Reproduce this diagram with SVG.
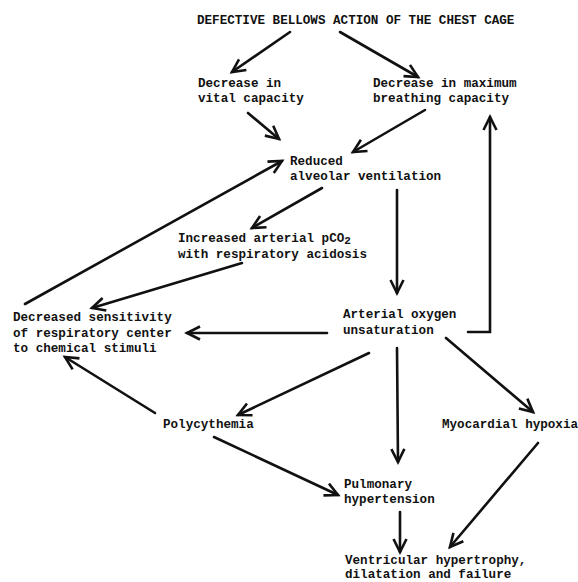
<svg xmlns="http://www.w3.org/2000/svg" width="578" height="582" viewBox="0 0 578 582">
<defs>
<marker id="ah" markerUnits="userSpaceOnUse" markerWidth="20" markerHeight="20" viewBox="-16 -10 20 20" refX="0" refY="0" orient="auto">
<path d="M -13 -6.5 L 0 0 L -13 6.5" fill="none" stroke="#111" stroke-width="2.6" stroke-linejoin="miter"/>
</marker>
</defs>
<style>
text { font-family: "Liberation Mono", "DejaVu Sans Mono", monospace; font-weight: bold; font-size: 12.6px; fill: #111; }
.c { fill: none; stroke: #111; stroke-width: 2.6; stroke-linecap: round; }
.sub { font-size: 11px; }
</style>
<rect width="578" height="582" fill="#fff"/>
<g id="n-title"><text x="197" y="24">DEFECTIVE BELLOWS ACTION OF THE CHEST CAGE</text></g>
<g id="n-vital"><text x="198" y="87">Decrease in</text><text x="198" y="102">vital capacity</text></g>
<g id="n-mbc"><text x="373" y="87">Decrease in maximum</text><text x="373" y="102">breathing capacity</text></g>
<g id="n-reduced"><text x="290" y="165">Reduced</text><text x="290" y="180">alveolar ventilation</text></g>
<g id="n-pco2"><text x="178" y="242">Increased arterial pCO<tspan class="sub" dy="1.5">2</tspan></text><text x="178" y="258">with respiratory acidosis</text></g>
<g id="n-sens"><text x="13" y="321">Decreased sensitivity</text><text x="13" y="337">of respiratory center</text><text x="13" y="352">to chemical stimuli</text></g>
<g id="n-art"><text x="343" y="318">Arterial oxygen</text><text x="343" y="334">unsaturation</text></g>
<g id="n-poly"><text x="163" y="428">Polycythemia</text></g>
<g id="n-myo"><text x="442" y="428">Myocardial hypoxia</text></g>
<g id="n-pulm"><text x="344" y="488">Pulmonary</text><text x="344" y="503">hypertension</text></g>
<g id="n-vent"><text x="345" y="564">Ventricular hypertrophy,</text><text x="345" y="578">dilatation and failure</text></g>
<g id="connectors">
<line class="c" x1="290" y1="32" x2="232" y2="72" marker-end="url(#ah)"/>
<line class="c" x1="340" y1="32" x2="418" y2="77" marker-end="url(#ah)"/>
<line class="c" x1="248" y1="113" x2="279" y2="139" marker-end="url(#ah)"/>
<line class="c" x1="425" y1="110" x2="353" y2="152" marker-end="url(#ah)"/>
<polyline class="c" points="468,332 490,332 490,117" marker-end="url(#ah)"/>
<line class="c" x1="25" y1="304" x2="282" y2="161" marker-end="url(#ah)"/>
<line class="c" x1="322" y1="188" x2="252" y2="228" marker-end="url(#ah)"/>
<line class="c" x1="242" y1="263" x2="92" y2="308" marker-end="url(#ah)"/>
<line class="c" x1="327" y1="333" x2="187" y2="333" marker-end="url(#ah)"/>
<line class="c" x1="397" y1="190" x2="397" y2="293" marker-end="url(#ah)"/>
<line class="c" x1="369" y1="353" x2="238" y2="415" marker-end="url(#ah)"/>
<line class="c" x1="397" y1="348" x2="398" y2="462" marker-end="url(#ah)"/>
<line class="c" x1="446" y1="338" x2="533" y2="412" marker-end="url(#ah)"/>
<line class="c" x1="155" y1="413" x2="65" y2="357" marker-end="url(#ah)"/>
<line class="c" x1="214" y1="437" x2="338" y2="495" marker-end="url(#ah)"/>
<line class="c" x1="400" y1="512" x2="400" y2="552" marker-end="url(#ah)"/>
<line class="c" x1="538" y1="443" x2="450" y2="547" marker-end="url(#ah)"/>
</g>
</svg>
